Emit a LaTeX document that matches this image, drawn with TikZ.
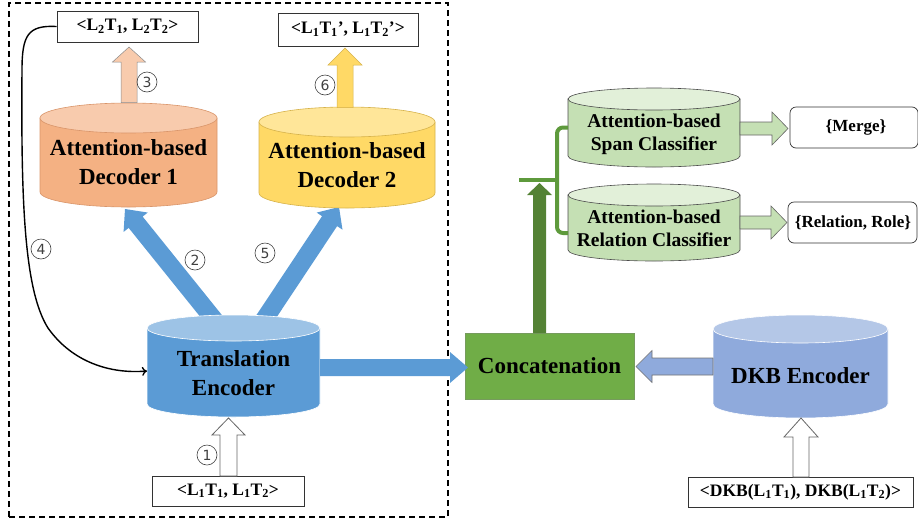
\documentclass[tikz,border=0pt]{standalone}
\usepackage{fontspec}
\setmainfont{Liberation Serif}
\newfontfamily\numfont{DejaVu Sans}
\usetikzlibrary{calc,arrows.meta}
\definecolor{orbody}{HTML}{F4B183}
\definecolor{ortop}{HTML}{F8CBAD}
\definecolor{orline}{HTML}{D9956A}
\definecolor{yebody}{HTML}{FFD966}
\definecolor{yetop}{HTML}{FFE699}
\definecolor{yeline}{HTML}{D6B24A}
\definecolor{blbody}{HTML}{5B9BD5}
\definecolor{bltop}{HTML}{9DC3E6}
\definecolor{dkbody}{HTML}{8FAADC}
\definecolor{dktop}{HTML}{B4C7E7}
\definecolor{grbody}{HTML}{C5E0B4}
\definecolor{grtop}{HTML}{E2F0D9}
\definecolor{concat}{HTML}{70AD47}
\definecolor{dgreen}{HTML}{548235}
\definecolor{mgreen}{HTML}{5E9A3C}
\definecolor{numgray}{HTML}{404040}
% cylinder: #1 name, #2 x1, #3 x2, #4 ytop, #5 ybot, #6 ry, #7 body, #8 top, #9 border
\newcommand\drawcyl[9]{%
  \pgfmathsetmacro\cylrx{(#3-#2)/2}%
  \pgfmathsetmacro\cylcx{(#2+#3)/2}%
  \pgfmathsetmacro\cylyt{-(#4)-(#6)}%
  \pgfmathsetmacro\cylyb{-(#5)+(#6)}%
  \pgfmathsetmacro\cylcy{-(#4+#5)/2}%
  \pgfmathsetmacro\cylw{#3-#2}%
  \pgfmathsetmacro\cylh{#5-#4}%
  \path[fill=#7,draw=#9,line width=0.6pt] (#2,\cylyt) -- (#2,\cylyb)
     arc[start angle=180,end angle=360,x radius=\cylrx pt,y radius=#6 pt] -- (#3,\cylyt) -- cycle;
  \path[fill=#8,draw=#9,line width=0.6pt] (\cylcx,\cylyt) ellipse[x radius=\cylrx pt,y radius=#6 pt];
  \node[inner sep=0pt,outer sep=0pt,minimum width=\cylw pt,minimum height=\cylh pt] (#1) at (\cylcx,\cylcy) {};
}
% block arrow: #1 style, #2 start, #3 end, #4 shaft hw, #5 head hw, #6 head length
\newcommand\blockarrow[6][]{%
  \coordinate (baH) at ($(#3)!#6!(#2)$);
  \path[#1] ($(#2)!#4!90:(#3)$) -- ($(baH)!#4!90:(#3)$) -- ($(baH)!#5!90:(#3)$) -- (#3)
     -- ($(baH)!#5!-90:(#3)$) -- ($(baH)!#4!-90:(#3)$) -- ($(#2)!#4!-90:(#3)$) -- cycle;
}
\tikzset{
  lbl/.style={draw=black!80,line width=0.7pt,fill=white,font=\bfseries\fontsize{17.5}{19}\selectfont,inner sep=0pt},
  bigtxt/.style={font=\bfseries\fontsize{23}{29}\selectfont,align=center,inner sep=0pt},
  clstxt/.style={font=\bfseries\fontsize{19.5}{23}\selectfont,align=center,inner sep=0pt},
  outtxt/.style={font=\bfseries\fontsize{17}{20}\selectfont,inner sep=0pt},
  num/.style={circle,draw=numgray,line width=0.6pt,minimum size=20pt,inner sep=0pt,text=numgray,font=\numfont\fontsize{14}{14}\selectfont},
}
\begin{document}
\begin{tikzpicture}[x=1pt,y=1pt]
\useasboundingbox (0,0) rectangle (918,-523);
% dashed frame
\node[draw=black,line width=1.2pt,dash pattern=on 6pt off 4pt,minimum width=439pt,minimum height=514pt,inner sep=0pt] (frame) at (228.5,-260) {};

% label boxes
\node[lbl,minimum width=141pt,minimum height=31pt] (oL2) at (127.5,-26.5) {<L\textsubscript{2}T\textsubscript{1}, L\textsubscript{2}T\textsubscript{2}>};
\node[lbl,minimum width=140pt,minimum height=33pt] (oL1p) at (348,-29.5) {<L\textsubscript{1}T\textsubscript{1}’, L\textsubscript{1}T\textsubscript{2}’>};
\node[lbl,minimum width=152pt,minimum height=30pt] (iL1) at (228,-491) {<L\textsubscript{1}T\textsubscript{1}, L\textsubscript{1}T\textsubscript{2}>};
\node[lbl,minimum width=225pt,minimum height=30pt] (iDKB) at (800.5,-492) {<DKB(L\textsubscript{1}T\textsubscript{1}), DKB(L\textsubscript{1}T\textsubscript{2})>};

% arrows from encoder to decoders (under cylinders)
\coordinate (e2s) at (224,-332);
\coordinate (e2t) at (125,-209);
\coordinate (e5s) at (256,-332);
\coordinate (e5t) at (339,-207);
\blockarrow[fill=blbody]{e2s}{e2t}{9pt}{15.5pt}{17pt}
\blockarrow[fill=blbody]{e5s}{e5t}{9pt}{15.5pt}{17pt}

% cylinders
\drawcyl{dec1}{40}{217}{103}{207}{15}{orbody}{ortop}{orline}
\drawcyl{dec2}{259}{435}{107}{208}{15}{yebody}{yetop}{yeline}
\drawcyl{enc}{147}{320}{315}{417}{13}{blbody}{bltop}{white}
\drawcyl{dkb}{713}{888}{315}{418}{14}{dkbody}{dktop}{white}
\drawcyl{span}{568}{740}{88}{167}{11}{grbody}{grtop}{black!70}
\drawcyl{rel}{568}{740}{184}{261}{11}{grbody}{grtop}{black!70}

\node[bigtxt] (dec1t) at (128.5,-162) {Attention-based\\Decoder 1};
\node[bigtxt] (dec2t) at (347,-165) {Attention-based\\Decoder 2};
\node[bigtxt] (enct) at (233.5,-373) {Translation\\Encoder};
\node[bigtxt] (dkbt) at (800.5,-376) {DKB Encoder};
\node[clstxt] (spant) at (654,-134) {Attention-based\\Span Classifier};
\node[clstxt] (relt) at (654,-228) {Attention-based\\Relation Classifier};

% concatenation
\node[draw=dgreen!80,line width=0.6pt,fill=concat,minimum width=169pt,minimum height=66pt,inner sep=0pt,font=\bfseries\fontsize{23}{28}\selectfont] (cat) at (549.5,-366) {Concatenation};

% outputs
\node[draw=black!80,line width=0.7pt,rounded corners=6pt,minimum width=128pt,minimum height=41pt,inner sep=0pt] (merge) at (854,-127.5) {};
\node[outtxt] (merget) at (856,-127.5) {\{Merge\}};
\node[draw=black!80,line width=0.7pt,rounded corners=6pt,minimum width=129pt,minimum height=41pt,inner sep=0pt] (relout) at (852.5,-222.5) {};
\node[outtxt] (reloutt) at (853,-222.5) {\{Relation, Role\}};

% arrow 3 and 6
\coordinate (a3s) at (129,-102.5);
\coordinate (a3t) at (129,-47);
\blockarrow[fill=ortop,draw=black!45,line width=0.5pt]{a3s}{a3t}{8pt}{16.5pt}{15pt}
\coordinate (a6s) at (345,-107.5);
\coordinate (a6t) at (345,-48);
\blockarrow[fill=yebody,draw=yeline,line width=0.5pt]{a6s}{a6t}{8pt}{17pt}{17pt}

% arrow 1 and DKB input
\coordinate (a1s) at (228.5,-476);
\coordinate (a1t) at (228.5,-418);
\blockarrow[fill=white,draw=black!60,line width=0.8pt]{a1s}{a1t}{8.5pt}{16.5pt}{17pt}
\coordinate (adks) at (801,-477);
\coordinate (adkt) at (801,-418);
\blockarrow[fill=white,draw=black!60,line width=0.8pt]{adks}{adkt}{8pt}{17pt}{19pt}

% encoder -> concatenation
\coordinate (ecs) at (320,-367.5);
\coordinate (ect) at (468,-367.5);
\blockarrow[fill=blbody]{ecs}{ect}{8.5pt}{15.5pt}{18pt}
% DKB -> concatenation
\coordinate (dcs) at (713,-366.5);
\coordinate (dct) at (636,-366.5);
\blockarrow[fill=dkbody,draw=black!55,line width=0.6pt]{dcs}{dct}{8.5pt}{16pt}{16pt}

% concatenation -> classifiers
\coordinate (cus) at (539.5,-333);
\coordinate (cut) at (539.5,-183);
\blockarrow[fill=dgreen]{cus}{cut}{6.5pt}{12.5pt}{12pt}
\coordinate (brL) at (519,-180);
\coordinate (brM) at (557,-180);
\draw[mgreen,line width=4pt] (brL) -- (brM);
\draw[mgreen,line width=4pt,rounded corners=6pt] (span.west) -| (brM) |- ([yshift=-10.5pt]rel.west);

% classifier outputs
\coordinate (s1s) at (740,-128.5);
\coordinate (s1t) at (788,-128.5);
\blockarrow[fill=grbody,draw=black!60,line width=0.6pt]{s1s}{s1t}{6.5pt}{16.5pt}{16pt}
\coordinate (s2s) at (740,-222.5);
\coordinate (s2t) at (787,-222.5);
\blockarrow[fill=grbody,draw=black!60,line width=0.6pt]{s2s}{s2t}{6.5pt}{16.5pt}{16pt}

% feedback curve 4
\draw[line width=1.4pt,-{To[length=5pt,width=9pt]}] (oL2.west) .. controls (28,-25) and (22,-35) .. (22,-70)
   .. controls (21,-200) and (24,-290) .. (48,-328)
   .. controls (72,-362) and (110,-374) .. ([yshift=-5pt]enc.west);

% circled numbers
\node[num] (n1) at (207,-455) {1};
\node[num] (n2) at (195,-260) {2};
\node[num] (n3) at (147,-82) {3};
\node[num] (n4) at (41,-249) {4};
\node[num] (n5) at (265,-253) {5};
\node[num] (n6) at (325,-85) {6};
\end{tikzpicture}
\end{document}
